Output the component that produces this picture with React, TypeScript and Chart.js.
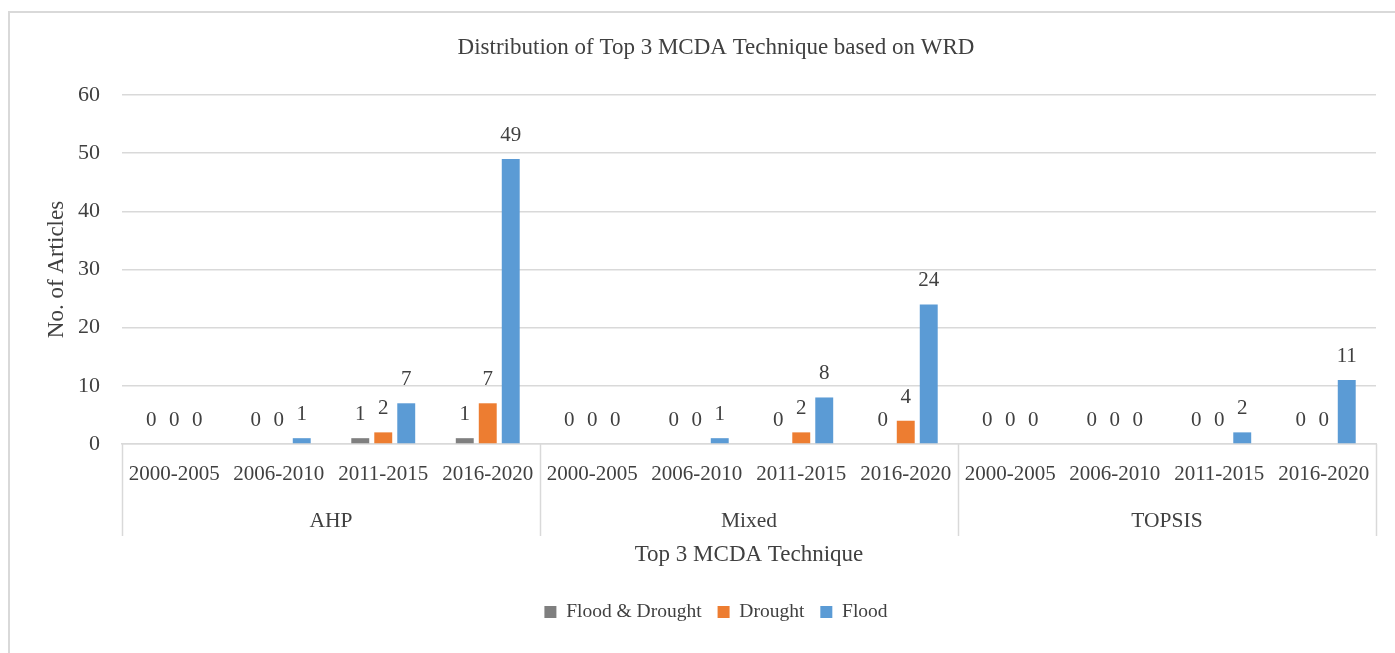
import React, { useEffect, useRef } from "react";
import { Chart, registerables } from "chart.js";

Chart.register(...registerables);

// ---- data ----
const groups = ["AHP", "Mixed", "TOPSIS"];
const periods = ["2000-2005", "2006-2010", "2011-2015", "2016-2020"];
const floodDrought = [0, 0, 1, 1, 0, 0, 0, 0, 0, 0, 0, 0];
const drought = [0, 0, 2, 7, 0, 0, 2, 4, 0, 0, 0, 0];
const flood = [0, 1, 7, 49, 0, 1, 8, 24, 0, 0, 2, 11];
const seriesNames = ["Flood & Drought", "Drought", "Flood"];
const seriesColors = ["#7f7f7f", "#ed7d31", "#5b9bd5"];
const yMin = 0;
const yMax = 60;
const yStep = 10;
const chartTitle = "Distribution of Top 3 MCDA Technique based on WRD";
const xTitle = "Top 3 MCDA Technique";
const yTitle = "No. of Articles";

const FONT = "'Liberation Serif', 'Times New Roman', serif";
const TEXT = "#404040";
const GRID = "#d9d9d9";

const W = 1395;
const H = 653;

const framePlugin = {
  id: "frame",
  beforeDraw(chart: any) {
    const ctx = chart.ctx;
    ctx.save();
    ctx.fillStyle = "#ffffff";
    ctx.fillRect(0, 0, chart.width, chart.height);
    ctx.fillStyle = GRID;
    ctx.fillRect(8, 11, chart.width - 8, 2);
    ctx.fillRect(8, 11, 2, chart.height - 11);
    ctx.restore();
  },
};

const dataLabelPlugin = {
  id: "dataLabels",
  afterDatasetsDraw(chart: any) {
    const ctx = chart.ctx;
    ctx.save();
    ctx.font = `21px ${FONT}`;
    ctx.fillStyle = TEXT;
    ctx.textAlign = "center";
    ctx.textBaseline = "alphabetic";
    chart.data.datasets.forEach((ds: any, di: number) => {
      const meta = chart.getDatasetMeta(di);
      meta.data.forEach((el: any, i: number) => {
        const v = ds.data[i];
        ctx.fillText(String(v), el.x, el.y - 18);
      });
    });
    ctx.restore();
  },
};

const groupAxisPlugin = {
  id: "groupAxis",
  afterDraw(chart: any) {
    const x = chart.scales.x;
    const ctx = chart.ctx;
    const n = chart.data.labels.length;
    const per = periods.length;
    const boundary = (i: number) => {
      if (i <= 0) return x.left;
      if (i >= n) return x.right;
      return (x.getPixelForValue(i - 1) + x.getPixelForValue(i)) / 2;
    };
    const top = x.top;
    ctx.save();
    ctx.strokeStyle = GRID;
    ctx.lineWidth = 1.5;
    for (let g = 0; g <= groups.length; g++) {
      const bx = Math.round(boundary(g * per)) + 0.5;
      ctx.beginPath();
      ctx.moveTo(bx, top);
      ctx.lineTo(bx, top + 92);
      ctx.stroke();
    }
    ctx.font = `21.5px ${FONT}`;
    ctx.fillStyle = TEXT;
    ctx.textAlign = "center";
    ctx.textBaseline = "middle";
    groups.forEach((name, g) => {
      const cx = (boundary(g * per) + boundary((g + 1) * per)) / 2;
      ctx.fillText(name, cx, top + 77);
    });
    ctx.restore();
  },
};

export default function App() {
  const ref = useRef<HTMLCanvasElement | null>(null);

  useEffect(() => {
    if (!ref.current) return;
    const labels = groups.flatMap(() => periods);
    const series = [floodDrought, drought, flood];
    const chart = new Chart(ref.current, {
      type: "bar",
      data: {
        labels,
        datasets: series.map((d, i) => ({
          label: seriesNames[i],
          data: d,
          backgroundColor: seriesColors[i],
          borderWidth: 0,
          categoryPercentage: 0.66,
          barPercentage: 0.78,
        })),
      },
      options: {
        responsive: false,
        animation: false,
        devicePixelRatio: 1,
        layout: { padding: { left: 37, right: 0, top: 0, bottom: 21.25 } },
        font: { family: FONT },
        plugins: {
          title: {
            display: true,
            text: chartTitle,
            color: TEXT,
            font: { family: FONT, size: 23, weight: "normal" },
            padding: { top: 33.7, bottom: 33.7 },
          },
          legend: {
            display: true,
            position: "bottom",
            labels: {
              boxWidth: 12,
              boxHeight: 12,
              padding: 16,
              color: TEXT,
              font: { family: FONT, size: 19.5 },
            },
          },
          tooltip: { enabled: false },
        },
        scales: {
          x: {
            type: "category",
            grid: { display: false, drawTicks: false },
            border: { display: true, color: GRID, width: 1.5 },
            ticks: {
              color: TEXT,
              font: { family: FONT, size: 21 },
              padding: 18,
              autoSkip: false,
              maxRotation: 0,
              minRotation: 0,
            },
            title: {
              display: true,
              text: xTitle,
              color: TEXT,
              font: { family: FONT, size: 23 },
              padding: { top: 0, bottom: 17.45 },
            },
            afterFit: (s: any) => {
              s.height = 142.25;
            },
          },
          y: {
            type: "linear",
            position: "left",
            min: yMin,
            max: yMax,
            grid: { color: GRID, lineWidth: 1.5, drawTicks: false },
            border: { display: false },
            ticks: {
              stepSize: yStep,
              color: TEXT,
              font: { family: FONT, size: 22 },
              padding: 22,
            },
            title: {
              display: true,
              text: yTitle,
              color: TEXT,
              font: { family: FONT, size: 23 },
              padding: { top: 6.2, bottom: 0 },
            },
            afterFit: (s: any) => {
              s.width = 85;
            },
          },
          yr: {
            type: "linear",
            position: "right",
            display: true,
            grid: { display: false, drawTicks: false },
            border: { display: false },
            ticks: { display: false },
            afterFit: (s: any) => {
              s.width = 19;
            },
          },
        },
      },
      plugins: [framePlugin, dataLabelPlugin, groupAxisPlugin],
    } as any);
    return () => chart.destroy();
  }, []);

  return (
    <div
      style={{
        position: "fixed",
        left: 0,
        top: 0,
        width: W,
        height: H,
        overflow: "hidden",
        background: "#ffffff",
      }}
    >
      <canvas ref={ref} width={W} height={H} style={{ display: "block", width: W, height: H }} />
    </div>
  );
}
